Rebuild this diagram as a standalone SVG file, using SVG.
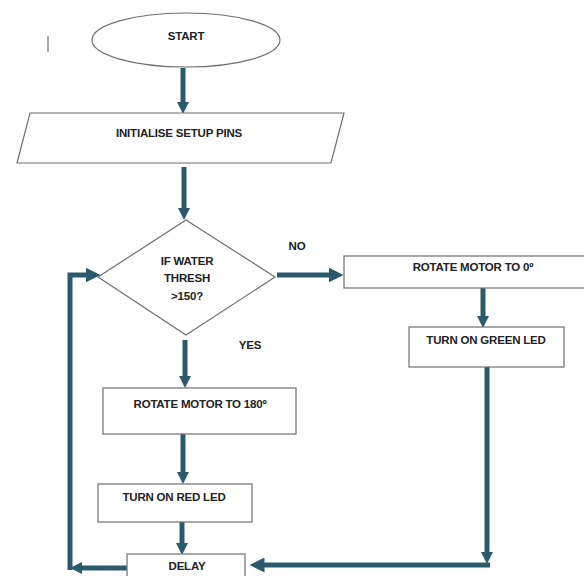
<svg xmlns="http://www.w3.org/2000/svg" width="584" height="576" viewBox="0 0 584 576">
<style>
.shape{fill:#fff;stroke:#6e6e6e;stroke-width:1.2}
.lbl{font-family:"Liberation Sans",Arial,sans-serif;font-weight:bold;font-size:11.5px;fill:#222;text-anchor:middle;dominant-baseline:middle;letter-spacing:-0.2px}
.conn{fill:none;stroke:#2c5a6d;stroke-width:5}
</style>
<defs>
<marker id="ah" markerWidth="3" markerHeight="3" refX="1.5" refY="1.5" orient="auto" markerUnits="strokeWidth">
<path d="M0,0 L3,1.5 L0,3 Z" fill="#2c5a6d"/>
</marker>
<marker id="ahs" markerWidth="2.4" markerHeight="2.4" refX="1.2" refY="1.2" orient="auto" markerUnits="strokeWidth">
<path d="M0,0 L2.4,1.2 L0,2.4 Z" fill="#2c5a6d"/>
</marker>
</defs>
<rect width="584" height="576" fill="#fff"/>
<line x1="48" y1="36" x2="48" y2="52" stroke="#555" stroke-width="1"/>
<g id="connectors">
<path class="conn" d="M183,68 V108" marker-end="url(#ahs)"/>
<path class="conn" d="M184,167 V214" marker-end="url(#ahs)"/>
<path class="conn" d="M277,275 H336" marker-end="url(#ah)"/>
<path class="conn" d="M185,340 V382" marker-end="url(#ahs)"/>
<path class="conn" d="M483,288 V322" marker-end="url(#ahs)"/>
<path class="conn" d="M183,434 V478" marker-end="url(#ahs)"/>
<path class="conn" d="M182,522 V549" marker-end="url(#ahs)"/>
<path class="conn" d="M487,367 V558" marker-end="url(#ahs)"/>
<path class="conn" d="M490,565 H257" marker-end="url(#ah)"/>
<path class="conn" d="M127,568 H76" marker-end="url(#ahs)"/>
<path class="conn" d="M70,570 V275 H93" marker-end="url(#ah)"/>
</g>
<g id="start">
<ellipse class="shape" cx="186" cy="40" rx="94" ry="27"/>
<text class="lbl" x="186" y="37">START</text>
</g>
<g id="init">
<polygon class="shape" points="30,113 344,113 331,163 17,163"/>
<text class="lbl" x="179" y="134">INITIALISE SETUP PINS</text>
</g>
<g id="decision">
<polygon class="shape" points="186,220 275,277 186,335 98,277"/>
<text class="lbl" x="187" y="262">IF WATER</text>
<text class="lbl" x="187" y="279">THRESH</text>
<text class="lbl" x="187" y="297">&gt;150?</text>
</g>
<text class="lbl" x="297" y="247">NO</text>
<text class="lbl" x="250" y="346">YES</text>
<g id="rotate0">
<rect class="shape" x="344" y="256" width="250" height="32"/>
<text class="lbl" x="473" y="268">ROTATE MOTOR TO 0º</text>
</g>
<g id="green">
<rect class="shape" x="409" y="327" width="155" height="40"/>
<text class="lbl" x="486" y="341">TURN ON GREEN LED</text>
</g>
<g id="rotate180">
<rect class="shape" x="103" y="388" width="193" height="46"/>
<text class="lbl" x="200" y="405">ROTATE MOTOR TO 180º</text>
</g>
<g id="red">
<rect class="shape" x="98" y="484" width="154" height="38"/>
<text class="lbl" x="174" y="498">TURN ON RED LED</text>
</g>
<g id="delay">
<rect class="shape" x="127" y="554" width="118" height="30"/>
<text class="lbl" x="187" y="567">DELAY</text>
</g>
</svg>
